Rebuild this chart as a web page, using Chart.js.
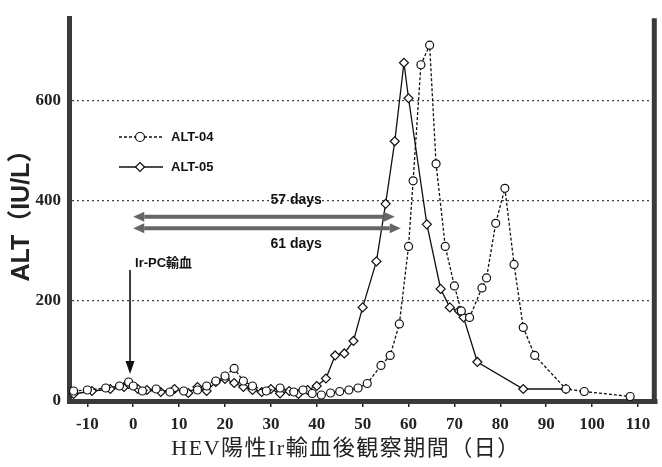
<!DOCTYPE html>
<html>
<head>
<meta charset="utf-8">
<script src="https://cdn.jsdelivr.net/npm/chart.js@4.4.0/dist/chart.umd.min.js"></script>
<style>
html, body { margin: 0; padding: 0; background: #fff; }
#wrap { width: 662px; height: 467px; }
</style>
</head>
<body>
<div id="wrap"><canvas id="altChart" width="662" height="467"></canvas></div>
<script>
// tick labels
const xTicks = [-10, 0, 10, 20, 30, 40, 50, 60, 70, 80, 90, 100, 110];
const yTicks = [0, 200, 400, 600];

// ALT-04 (dashed, later peak + second peak at day 81)
const alt04Days = [-13, -10, -6, -3, -1, 0, 2, 5, 8, 11, 14, 16, 18, 20, 22, 24, 26, 29, 32, 35, 37, 39, 41, 43, 45, 47, 49, 51, 54, 56, 58, 60, 61, 62.7, 64.6, 66, 68, 70, 71.5, 73.3, 76, 77, 79, 81, 83, 85, 87.5, 94.3, 98.3, 108.3];
const alt04Values = [20, 22, 26, 30, 38, 30, 20, 24, 18, 20, 22, 30, 40, 50, 65, 40, 30, 20, 26, 18, 22, 15, 12, 16, 19, 22, 26, 35, 71, 91, 154, 309, 440, 672, 711, 474, 309, 230, 180, 167, 226, 246, 355, 425, 273, 147, 91, 24, 19, 9];

// ALT-05 (solid, earlier peak)
const alt05Days = [-13, -9, -5, -2, -1, 1, 3, 6, 9, 12, 14, 16, 18, 20, 22, 24, 26, 28, 30, 32, 34, 36, 38, 40, 42, 44, 46, 48, 50, 53, 55, 57, 59, 60, 64, 67, 69, 71, 72, 75, 85, 94.3];
const alt05Values = [14, 20, 24, 28, 34, 24, 22, 18, 24, 16, 28, 20, 38, 44, 36, 28, 22, 18, 24, 15, 20, 14, 22, 30, 45, 91, 95, 120, 187, 279, 394, 519, 676, 605, 353, 224, 187, 180, 167, 78, 24, 24];

const xTitle = 'HEV陽性Ir輸血後観察期間（日）';
const yTitle = 'ALT（IU/L）';

const toPoints = (days, vals) => days.map((d, i) => ({x: d, y: vals[i]}));

const serif = '"Liberation Serif", "Noto Sans CJK JP", serif';
const sans = '"Liberation Sans", "Noto Sans CJK JP", sans-serif';

// annotation anchors in data units
const spanArrows = [
    {from: 0, to: 57, at: 368, label: '57 days', labelAt: 402},
    {from: 0, to: 58.3, at: 345, label: '61 days', labelAt: 313}
];
const transfusion = {day: -0.7, top: 262, tip: 54, label: 'Ir-PC輸血', labelAt: 274};

function drawMarker(ctx, style, cx, cy, r) {
    ctx.beginPath();
    if (style === 'rectRot') {
        ctx.moveTo(cx, cy - r); ctx.lineTo(cx + r, cy); ctx.lineTo(cx, cy + r); ctx.lineTo(cx - r, cy); ctx.closePath();
    } else {
        ctx.arc(cx, cy, r, 0, Math.PI * 2);
    }
    ctx.fillStyle = '#fff';
    ctx.fill();
    ctx.setLineDash([]);
    ctx.stroke();
}

const extras = {
    id: 'extras',
    afterDraw(chart) {
        const {ctx, chartArea, scales: {x, y}} = chart;
        ctx.save();

        // right frame
        ctx.strokeStyle = '#3a3a3a';
        ctx.lineWidth = 5;
        ctx.beginPath();
        ctx.moveTo(chartArea.right - 2, chartArea.top);
        ctx.lineTo(chartArea.right - 2, chartArea.bottom);
        ctx.stroke();

        // x axis title (drawn here for its letter spacing)
        ctx.fillStyle = '#222';
        ctx.font = '22px ' + serif;
        ctx.letterSpacing = '1.5px';
        ctx.textAlign = 'center';
        ctx.textBaseline = 'middle';
        ctx.fillText(xTitle, 346, 449);
        ctx.letterSpacing = '0px';

        // legend
        chart.data.datasets.forEach((ds, i) => {
            const ly = 137 + i * 30;
            ctx.strokeStyle = '#111';
            ctx.lineWidth = 1.3;
            ctx.setLineDash(ds.borderDash || []);
            ctx.beginPath();
            ctx.moveTo(119, ly);
            ctx.lineTo(163, ly);
            ctx.stroke();
            ctx.lineWidth = 1.2;
            drawMarker(ctx, ds.pointStyle, 140, ly, 4.5);
            ctx.fillStyle = '#111';
            ctx.font = 'bold 13px ' + sans;
            ctx.textAlign = 'left';
            ctx.textBaseline = 'middle';
            ctx.fillText(ds.label, 171, ly);
        });

        // period arrows
        spanArrows.forEach(a => {
            const x1 = x.getPixelForValue(a.from), x2 = x.getPixelForValue(a.to);
            const yy = y.getPixelForValue(a.at);
            const head = 11, half = 5;
            ctx.strokeStyle = '#666';
            ctx.fillStyle = '#666';
            ctx.lineWidth = 4;
            ctx.setLineDash([]);
            ctx.beginPath();
            ctx.moveTo(x1 + head, yy);
            ctx.lineTo(x2 - head, yy);
            ctx.stroke();
            ctx.beginPath();
            ctx.moveTo(x1, yy); ctx.lineTo(x1 + head, yy - half); ctx.lineTo(x1 + head, yy + half); ctx.closePath();
            ctx.fill();
            ctx.beginPath();
            ctx.moveTo(x2, yy); ctx.lineTo(x2 - head, yy - half); ctx.lineTo(x2 - head, yy + half); ctx.closePath();
            ctx.fill();
            ctx.fillStyle = '#111';
            ctx.font = 'bold 14px ' + sans;
            ctx.textAlign = 'center';
            ctx.textBaseline = 'middle';
            ctx.fillText(a.label, x.getPixelForValue(35.5), y.getPixelForValue(a.labelAt));
        });

        // transfusion marker
        const tx = x.getPixelForValue(transfusion.day);
        const ty1 = y.getPixelForValue(transfusion.top);
        const ty2 = y.getPixelForValue(transfusion.tip);
        ctx.strokeStyle = '#111';
        ctx.fillStyle = '#111';
        ctx.lineWidth = 1.6;
        ctx.beginPath();
        ctx.moveTo(tx, ty1);
        ctx.lineTo(tx, ty2 - 10);
        ctx.stroke();
        ctx.beginPath();
        ctx.moveTo(tx, ty2); ctx.lineTo(tx - 4.5, ty2 - 13); ctx.lineTo(tx + 4.5, ty2 - 13); ctx.closePath();
        ctx.fill();
        ctx.font = 'bold 13px ' + sans;
        ctx.textAlign = 'left';
        ctx.textBaseline = 'middle';
        ctx.fillText(transfusion.label, tx + 5, y.getPixelForValue(transfusion.labelAt));

        ctx.restore();
    }
};

const ctx = document.getElementById('altChart');
window.altChart = new Chart(ctx, {
    type: 'line',
    data: {
        datasets: [{
            label: 'ALT-04',
            data: toPoints(alt04Days, alt04Values),
            borderColor: '#111',
            borderWidth: 1.3,
            borderDash: [3, 2],
            pointStyle: 'circle',
            pointRadius: 4,
            pointBorderWidth: 1.2,
            pointBorderColor: '#111',
            pointBackgroundColor: '#fff',
            tension: 0
        }, {
            label: 'ALT-05',
            data: toPoints(alt05Days, alt05Values),
            borderColor: '#111',
            borderWidth: 1.3,
            pointStyle: 'rectRot',
            pointRadius: 4.5,
            pointBorderWidth: 1.2,
            pointBorderColor: '#111',
            pointBackgroundColor: '#fff',
            tension: 0
        }]
    },
    options: {
        responsive: false,
        animation: false,
        devicePixelRatio: 1,
        layout: {padding: {left: 0, right: 5, top: 13, bottom: 0}},
        plugins: {
            legend: {display: false},
            tooltip: {enabled: false}
        },
        scales: {
            x: {
                type: 'linear',
                min: -14,
                max: 114,
                afterBuildTicks: s => { s.ticks = xTicks.map(v => ({value: v})); },
                afterFit: s => { s.height = 66; },
                grid: {drawOnChartArea: false, drawTicks: true, tickLength: 6, color: '#222', lineWidth: 1.5},
                border: {width: 5, color: '#3a3a3a'},
                ticks: {
                    padding: 7,
                    color: '#222',
                    font: {family: serif, size: 17, weight: 'bold'}
                }
            },
            y: {
                min: 0,
                max: 765,
                afterBuildTicks: s => { s.ticks = yTicks.map(v => ({value: v})); },
                afterFit: s => { s.width = 69; },
                grid: {drawTicks: false, color: '#444', lineWidth: 1.2},
                border: {width: 5, color: '#3a3a3a', dash: [2, 3]},
                ticks: {
                    padding: 8,
                    color: '#222',
                    font: {family: serif, size: 17, weight: 'bold'}
                },
                title: {
                    display: true,
                    text: yTitle,
                    color: '#222',
                    padding: {top: 7, bottom: 0},
                    font: {family: sans, size: 25, weight: 'bold'}
                }
            }
        }
    },
    plugins: [extras]
});
</script>
</body>
</html>
